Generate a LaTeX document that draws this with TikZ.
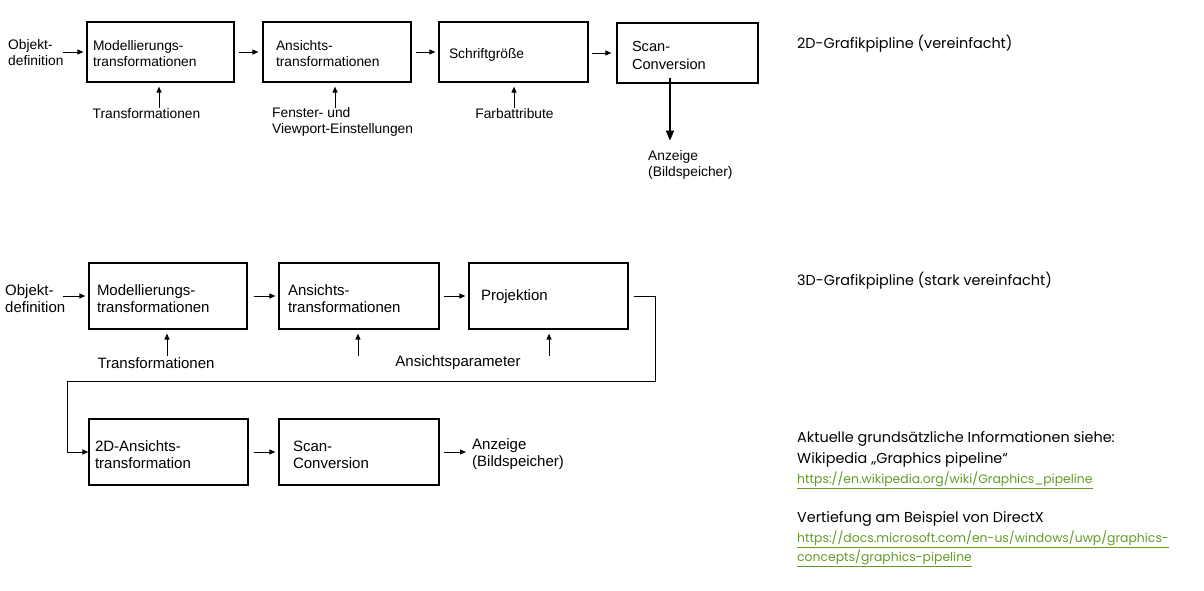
\documentclass[tikz,border=0pt]{standalone}
\usepackage{fontspec}
\setmainfont{Liberation Sans}
\newfontfamily\futf{Poppins}
\usetikzlibrary{arrows.meta,calc}
\definecolor{linkgreen}{RGB}{98,155,38}
\newcommand{\lnk}[1]{{\color{linkgreen}\underline{#1}}}
\newcommand{\tstrut}{\rule{0pt}{14pt}}
\newcommand{\bstrut}{\rule{0pt}{17pt}}
\begin{document}
\begin{tikzpicture}[x=1pt,y=-1pt,
  box/.style={draw, line width=1.2pt, align=left, inner ysep=0pt},
  ftop/.style={font=\fontsize{13.8}{16}\selectfont},
  fbot/.style={font=\fontsize{15}{17}\selectfont},
  lbl/.style={inner sep=0pt, align=left},
  arr/.style={line width=1pt, -{Triangle[length=6pt,width=5pt]}},
  thickarr/.style={line width=1.6pt, -{Triangle[length=10pt,width=8pt]}},
  title/.style={inner sep=0pt, anchor=base west, font=\futf\fontsize{14.4}{16}\selectfont},
  link/.style={inner sep=0pt, anchor=base west, font=\futf\fontsize{12.4}{14}\selectfont}
]
\useasboundingbox (0,0) rectangle (1204,590);

% ---------- 2D pipeline ----------
\node[lbl, ftop, anchor=west] (obj1) at (8,53) {Objekt-\\definition};
\node[box, ftop, inner xsep=6pt, text width=135pt, minimum height=60pt] (m1) at (160.5,52) {\tstrut Modellierungs-\\transformationen};
\node[box, ftop, inner xsep=13pt, text width=122pt, minimum height=60pt] (m2) at (337,52) {\tstrut Ansichts-\\transformationen};
\node[box, ftop, inner xsep=10pt, text width=129pt, minimum height=60pt] (m3) at (513.5,52) {\rule{0pt}{16pt}Schriftgröße};
\node[box, font=\fontsize{14.6}{18}\selectfont, inner xsep=15pt, text width=111pt, minimum height=60pt] (m4) at (687.5,53) {\rule{0pt}{16pt}Scan-\\Conversion};

\node[lbl, ftop] (t1) at (146.5,114) {Transformationen};
\node[lbl, ftop, anchor=west] (t2) at (272,122) {Fenster- und\\Viewport-Einstellungen};
\node[lbl, ftop] (t3) at (514.5,114) {Farbattribute};
\node[lbl, ftop, anchor=west] (a4) at (648,165) {Anzeige\\(Bildspeicher)};

\draw[arr] ([xshift=-1pt]obj1.east |- m1.west) -- ([xshift=-3pt]m1.west);
\draw[arr] ([xshift=4pt]m1.east) -- ([xshift=-4pt]m2.west);
\draw[arr] ([xshift=4pt]m2.east) -- ([xshift=-3pt]m3.west);
\draw[arr] ([xshift=3pt]m3.east |- m4.west) -- ([xshift=-5pt]m4.west);

\draw[arr] ([xshift=-1.5pt,yshift=-25pt]m1.south) -- ([xshift=-1.5pt,yshift=-4pt]m1.south);
\draw[arr] ([xshift=-2pt,yshift=-25pt]m2.south) -- ([xshift=-2pt,yshift=-4pt]m2.south);
\draw[arr] ([xshift=0.5pt,yshift=-25pt]m3.south) -- ([xshift=0.5pt,yshift=-4pt]m3.south);
\draw[thickarr] ([xshift=-17.5pt,yshift=6pt]m4.south) -- ([xshift=-17.5pt,yshift=-57pt]m4.south);

% ---------- 3D pipeline ----------
\node[lbl, fbot, anchor=west] (obj2) at (5,298.5) {Objekt-\\definition};
\node[box, fbot, inner xsep=8pt, text width=142pt, minimum height=66pt] (b1) at (168,296) {\bstrut Modellierungs-\\transformationen};
\node[box, fbot, inner xsep=9pt, text width=142pt, minimum height=66pt] (b2) at (359,296) {\bstrut Ansichts-\\transformationen};
\node[box, fbot, inner xsep=12pt, text width=135pt, minimum height=66pt] (b3) at (548.5,296) {\rule{0pt}{13pt}Projektion};
\node[box, fbot, inner xsep=6pt, text width=147pt, minimum height=66pt] (b4) at (168.5,452) {\bstrut 2D-Ansichts-\\transformation};
\node[box, fbot, inner xsep=14pt, text width=132pt, minimum height=66pt] (b5) at (359,452) {\bstrut Scan-\\Conversion};

\node[lbl, fbot] (bt1) at (156,363) {Transformationen};
\node[lbl, fbot] (bt2) at (458,363) {Ansichtsparameter};
\node[lbl, fbot, anchor=west] (a5) at (472,454.5) {Anzeige\\(Bildspeicher)};

\draw[arr] ([xshift=-2pt]obj2.east |- b1.west) -- ([xshift=-3pt]b1.west);
\draw[arr] ([xshift=6pt]b1.east) -- ([xshift=-3pt]b2.west);
\draw[arr] ([xshift=4pt]b2.east) -- ([xshift=-3pt]b3.west);
\draw[arr] ([xshift=-1pt,yshift=-26pt]b1.south) -- ([xshift=-1pt,yshift=-4pt]b1.south);
\draw[arr] ([xshift=-1pt,yshift=-26pt]b2.south) -- ([xshift=-1pt,yshift=-4pt]b2.south);
\draw[arr] ([xshift=0.5pt,yshift=-26pt]b3.south) -- ([xshift=0.5pt,yshift=-4pt]b3.south);

\coordinate (c1) at ([xshift=27pt]b3.east);
\coordinate (c3) at (67,381);
\draw[arr] ([xshift=5pt]b3.east) -- (c1) |- (c3) |- (b4.west);
\draw[arr] ([xshift=5pt]b4.east) -- ([xshift=-3pt]b5.west);
\draw[arr] ([xshift=4pt]b5.east) -- ([xshift=-6pt]a5.west |- b5.east);

% ---------- right texts ----------
\node[title] (h1) at (797,48) {2D-Grafikpipline (vereinfacht)};
\node[title] (h2) at (797,285) {3D-Grafikpipline (stark vereinfacht)};
\node[title] (i1) at (797,442) {Aktuelle grundsätzliche Informationen siehe:};
\node[title] (i2) at (797,463) {Wikipedia „Graphics pipeline“};
\node[link] (l1) at (797,483) {\lnk{https://en.wikipedia.org/wiki/Graphics\_pipeline}};
\node[title] (i3) at (797,522) {Vertiefung am Beispiel von DirectX};
\node[link] (l2) at (797,542) {\lnk{https://docs.microsoft.com/en-us/windows/uwp/graphics-}};
\node[link] (l3) at (797,561) {\lnk{concepts/graphics-pipeline}};
\end{tikzpicture}
\end{document}
